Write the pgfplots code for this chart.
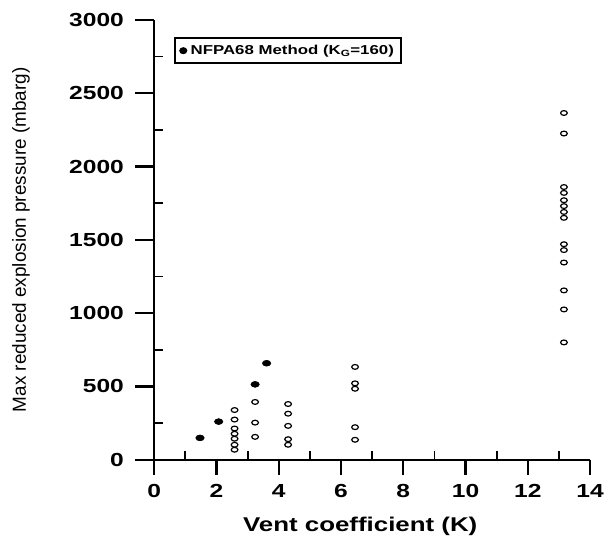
\documentclass[border=0pt]{standalone}
\usepackage{fontspec}
\setmainfont{Liberation Sans}
\newfontfamily\wb{Liberation Sans}[FakeStretch=1.3]
\usepackage{pgfplots}
\pgfplotsset{compat=1.18}

\pgfplotsset{
  base/.style={
    width=438pt, height=442pt, scale only axis,
    at={(0,0)}, anchor=south west,
    xmin=0, xmax=14, ymin=0, ymax=3000,
    axis x line*=bottom, axis y line*=left,
    /pgf/number format/assume math mode=true,
    /pgf/number format/1000 sep={},
    tick label style={font=\wb\bfseries\fontsize{19}{22}\selectfont},
    every tick/.style={black, line width=2.4pt},
    minor tick num=0,
  }
}

\begin{document}
\begin{tikzpicture}
\useasboundingbox (-155pt,-78pt) rectangle (456pt,462pt);
% main axis: data, x ticks, labels
\begin{axis}[base,
  axis line style={line width=2.4pt, -},
  xtick={0,2,...,14}, ytick=\empty,
  tick align=outside, major tick length=15pt,
  xticklabel style={yshift=-6pt},
  xlabel={\wb\bfseries\fontsize{20}{24}\selectfont Vent coefficient (K)},
  xlabel style={at={([xshift=-12pt,yshift=-72pt]axis description cs:0.5,0)}, anchor=base},
  legend style={at={(0.046,0.96)}, anchor=north west, draw=black,
    line width=1.6pt, inner xsep=5pt, inner ysep=5pt,
    font=\wb\bfseries\fontsize{13}{15}\selectfont},
  legend cell align=left,
]
\addplot[only marks, mark=*, mark size=2.7pt, mark options={xscale=1.2, fill=black}]
  coordinates {(1.47,149) (2.07,260) (3.24,514) (3.61,658)};
\addlegendentry{\,NFPA68 Method (K\textsubscript{G}=160)}
\addplot[only marks, mark=o, mark size=2.4pt, mark options={xscale=1.4, line width=1.2pt}, forget plot]
  coordinates {
    (2.58,339) (2.58,274) (2.58,213) (2.58,177) (2.58,143) (2.58,102) (2.58,68)
    (3.24,394) (3.24,253) (3.24,156)
    (4.30,380) (4.30,314) (4.30,231) (4.30,140) (4.30,102)
    (6.45,633) (6.45,521) (6.45,484) (6.45,222) (6.45,136)
    (13.16,2365) (13.16,2225) (13.16,1860) (13.16,1820) (13.16,1770) (13.16,1730)
    (13.16,1690) (13.16,1650) (13.16,1470) (13.16,1430) (13.16,1345) (13.16,1155)
    (13.16,1025) (13.16,800)
  };
\addplot[only marks, mark=*, mark size=3pt, mark options={xscale=1.45, fill=black}, forget plot]
  coordinates {(1.47,149) (2.07,260) (3.24,514) (3.61,658)};
\end{axis}
% y major ticks with labels
\begin{axis}[base,
  axis line style={draw=none},
  xtick=\empty, ytick={0,500,...,3000},
  tick align=outside, major tick length=19pt,
  yticklabel style={xshift=-8pt},
  ylabel={\fontsize{19}{21}\selectfont Max reduced explosion pressure (mbarg)},
  ylabel style={at={([xshift=-134pt]axis description cs:0,0.5)}, anchor=center},
]
\end{axis}
% minor ticks inside
\begin{axis}[base,
  axis line style={draw=none},
  xtick={1,3,...,13}, ytick={250,750,...,2750},
  xticklabels={}, yticklabels={},
  tick align=inside, major tick length=9pt,
  every tick/.style={black, line width=1.8pt},
]
\end{axis}
\end{tikzpicture}
\end{document}
